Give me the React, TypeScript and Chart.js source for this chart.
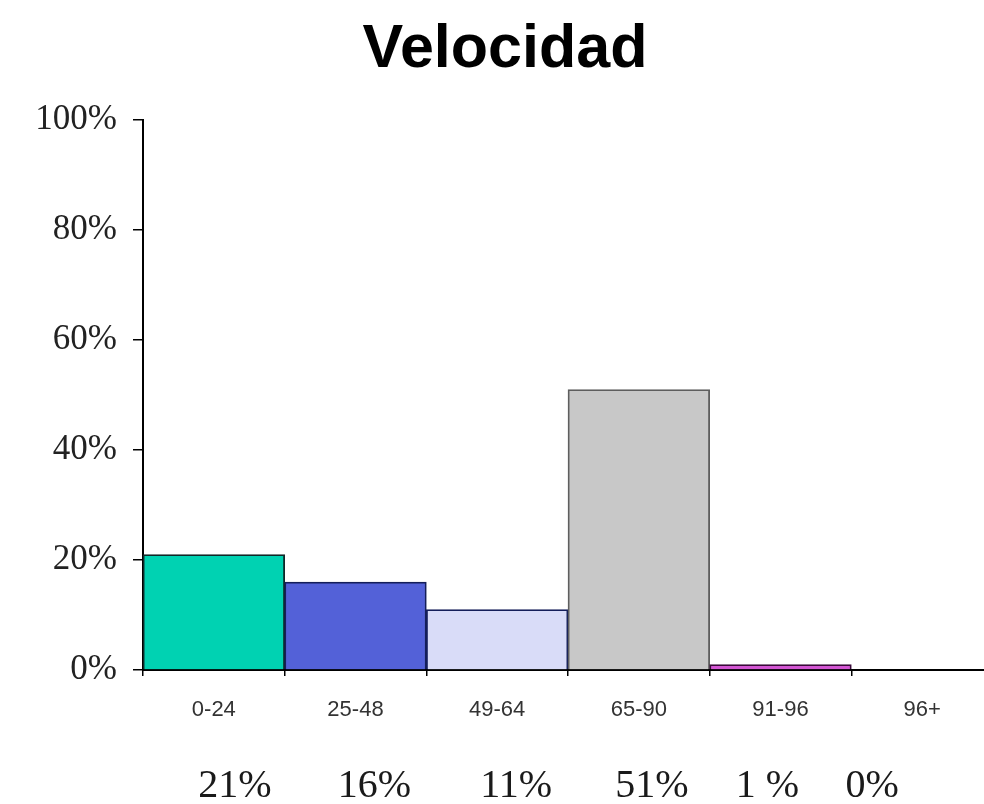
import React, { useEffect, useRef } from "react";
import { Chart, registerables } from "chart.js";

Chart.register(...registerables);

const categories = ["0-24", "25-48", "49-64", "65-90", "91-96", "96+"];
const values = [21, 16, 11, 51, 1, 0];
const pctLabels = ["21%", "16%", "11%", "51%", "1 %", "0%"];
const yTicks = [0, 20, 40, 60, 80, 100];

const fillColors = ["#00D2B2", "#5361D8", "#D9DCF8", "#C8C8C8", "#D456D4", "#FFFFFF"];
const edgeColors = ["#102828", "#141E5A", "#141E5A", "#5E5E5E", "#3A0A3A", "#000000"];

export default function App() {
  const ref = useRef<HTMLCanvasElement | null>(null);

  useEffect(() => {
    if (!ref.current) return;
    const labelOffsets = [21, 19, 19, 13, -13, -50];
    const pctPlugin = {
      id: "pctRow",
      afterDraw(chart: any) {
        const ctx = chart.ctx;
        const xs = chart.scales.x;
        ctx.save();
        ctx.font = '40px "Liberation Serif", "Times New Roman", serif';
        ctx.fillStyle = "#1a1a1a";
        ctx.textAlign = "center";
        ctx.textBaseline = "alphabetic";
        pctLabels.forEach((t, i) => {
          ctx.fillText(t, xs.getPixelForValue(i) + labelOffsets[i], 797);
        });
        ctx.restore();
      },
    };
    const chart = new Chart(ref.current, {
      type: "bar",
      data: {
        labels: categories,
        datasets: [
          {
            data: values,
            backgroundColor: fillColors,
            borderColor: edgeColors,
            borderWidth: 1.8,
            categoryPercentage: 1,
            barPercentage: 1,
          },
        ],
      },
      options: {
        animation: false,
        responsive: false,
        maintainAspectRatio: false,
        layout: { padding: { left: 17, right: 17, top: 0, bottom: 0 } },
        plugins: {
          legend: { display: false },
          tooltip: { enabled: false },
          title: {
            display: true,
            text: "Velocidad",
            color: "#000",
            font: { family: 'Arial, "Liberation Sans", sans-serif', size: 61, weight: "bold" },
            padding: { top: 14, bottom: 33 },
          },
        },
        scales: {
          x: {
            afterFit(scale: any) {
              scale.height = 134;
            },
            grid: {
              offset: true,
              drawOnChartArea: false,
              drawTicks: true,
              tickLength: 6,
              color: "#000",
              lineWidth: 1.5,
            },
            border: { display: true, color: "#000", width: 2 },
            ticks: {
              color: "#333",
              padding: 21,
              font: { family: 'Arial, "Liberation Sans", sans-serif', size: 22 },
            },
          },
          y: {
            min: 0,
            max: 100,
            afterFit(scale: any) {
              scale.width = 126;
            },
            afterBuildTicks(scale: any) {
              scale.ticks = yTicks.map((v) => ({ value: v }));
            },
            grid: {
              drawOnChartArea: false,
              drawTicks: true,
              tickLength: 10,
              color: "#000",
              lineWidth: 1.5,
            },
            border: { display: true, color: "#000", width: 2 },
            ticks: {
              color: "#222",
              padding: 16,
              font: { family: '"Liberation Serif", "Times New Roman", serif', size: 35 },
              callback: (v: any) => v + "%",
            },
          },
        },
      },
      plugins: [pctPlugin],
    });
    return () => chart.destroy();
  }, []);

  return (
    <div
      style={{
        position: "fixed",
        left: 0,
        top: 0,
        width: 984,
        height: 804,
        overflow: "hidden",
        background: "#fff",
      }}
    >
      <canvas ref={ref} width={1010} height={804} style={{ display: "block", width: 1010, height: 804 }} />
    </div>
  );
}
